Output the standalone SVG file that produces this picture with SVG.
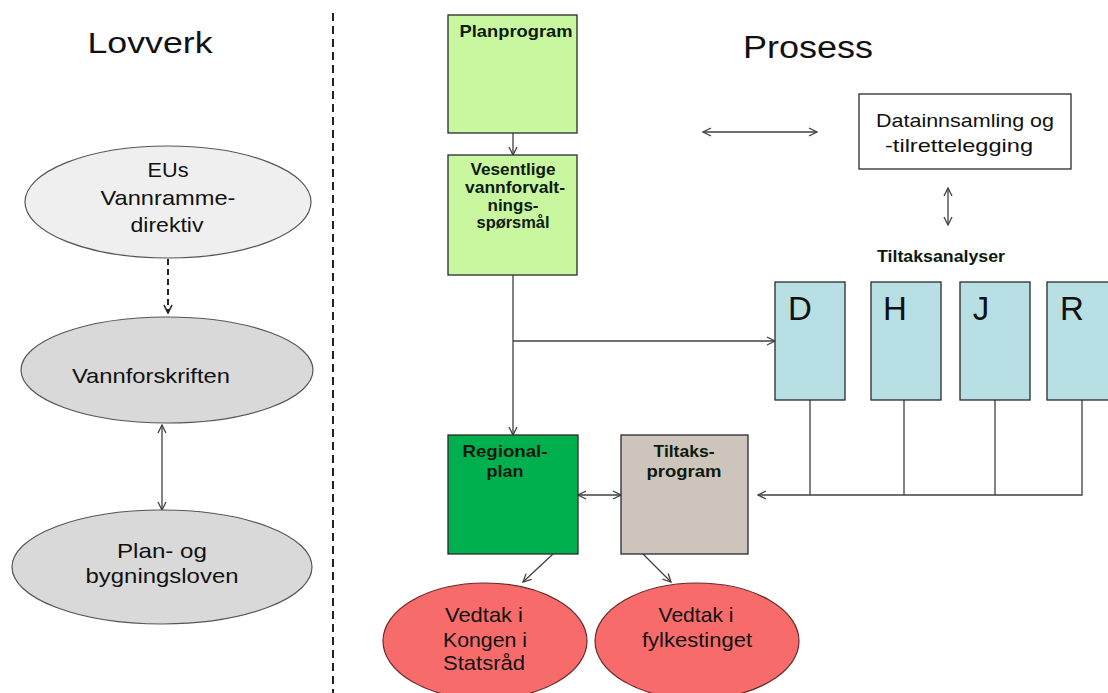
<svg xmlns="http://www.w3.org/2000/svg" width="1108" height="693" viewBox="0 0 1108 693">
<style>
.t{font-family:"Liberation Sans",Arial,sans-serif;fill:#111;text-anchor:middle}
.b{font-weight:bold;font-size:17px;fill:#0e1a0e}
.e{font-size:21px}
.ln{stroke:#404040;stroke-width:1.3;fill:none}
.box{stroke:#2a2a2a;stroke-width:1.3}
</style>
<defs>
<marker id="ah" viewBox="0 0 10 10" refX="9" refY="5" markerWidth="10" markerHeight="10" markerUnits="userSpaceOnUse" orient="auto-start-reverse">
<path d="M1,1 L9,5 L1,9" fill="none" stroke="#404040" stroke-width="1.3"/>
</marker>
<marker id="ahd" viewBox="0 0 10 10" refX="9" refY="5" markerWidth="10" markerHeight="10" markerUnits="userSpaceOnUse" orient="auto">
<path d="M1,1 L9,5 L1,9" fill="none" stroke="#222" stroke-width="1.6"/>
</marker>
</defs>
<rect width="1108" height="693" fill="#fff"/>

<text class="t" x="150" y="53" font-size="29" textLength="125" lengthAdjust="spacingAndGlyphs">Lovverk</text>
<text class="t" x="808" y="58" font-size="31" textLength="130" lengthAdjust="spacingAndGlyphs">Prosess</text>

<line x1="333" y1="13" x2="333" y2="693" stroke="#222" stroke-width="2" stroke-dasharray="8,5"/>

<g id="connectors">
<line x1="168" y1="259" x2="168" y2="313" stroke="#222" stroke-width="2" stroke-dasharray="6,4" marker-end="url(#ahd)"/>
<line class="ln" x1="162" y1="425" x2="162" y2="510" marker-start="url(#ah)" marker-end="url(#ah)"/>
<line class="ln" x1="513" y1="133" x2="513" y2="155" marker-end="url(#ah)"/>
<line class="ln" x1="513" y1="275" x2="513" y2="435" marker-end="url(#ah)"/>
<line class="ln" x1="513" y1="341" x2="775" y2="341" marker-end="url(#ah)"/>
<line class="ln" x1="703" y1="132" x2="817" y2="132" marker-start="url(#ah)" marker-end="url(#ah)"/>
<line class="ln" x1="948" y1="188" x2="948" y2="225" marker-start="url(#ah)" marker-end="url(#ah)"/>
<line class="ln" x1="578" y1="495" x2="621" y2="495" marker-start="url(#ah)" marker-end="url(#ah)"/>
<path class="ln" d="M810,400 V495 M904,400 V495 M995,400 V495 M1082,400 V495 H758" marker-end="url(#ah)"/>
<line class="ln" x1="553" y1="554" x2="523" y2="582" marker-end="url(#ah)"/>
<line class="ln" x1="643" y1="554" x2="671" y2="582" marker-end="url(#ah)"/>
</g>

<g id="eu">
<ellipse cx="168" cy="202" rx="143" ry="56" fill="#efefef" stroke="#555" stroke-width="1.2"/>
<text class="t e" x="168" y="177" textLength="41" lengthAdjust="spacingAndGlyphs">EUs</text>
<text class="t e" x="168" y="205" textLength="135" lengthAdjust="spacingAndGlyphs">Vannramme-</text>
<text class="t e" x="167" y="232" textLength="73" lengthAdjust="spacingAndGlyphs">direktiv</text>
</g>
<g id="vannforskriften">
<ellipse cx="167" cy="370" rx="146" ry="53" fill="#d9d9d9" stroke="#555" stroke-width="1.2"/>
<text class="t e" x="151" y="383" textLength="158" lengthAdjust="spacingAndGlyphs">Vannforskriften</text>
</g>
<g id="pbl">
<ellipse cx="162" cy="567" rx="150" ry="57" fill="#d9d9d9" stroke="#555" stroke-width="1.2"/>
<text class="t e" x="162" y="558" textLength="90" lengthAdjust="spacingAndGlyphs">Plan- og</text>
<text class="t e" x="162" y="583" textLength="153" lengthAdjust="spacingAndGlyphs">bygningsloven</text>
</g>

<g id="planprogram">
<rect class="box" x="448" y="15" width="129" height="118" fill="#c9f7a0"/>
<text class="t b" x="516" y="37" textLength="113" lengthAdjust="spacingAndGlyphs">Planprogram</text>
</g>
<g id="vesentlige">
<rect class="box" x="448" y="155" width="129" height="120" fill="#c9f7a0"/>
<text class="t b" x="513" y="175" textLength="85" lengthAdjust="spacingAndGlyphs">Vesentlige</text>
<text class="t b" x="515" y="193" textLength="100" lengthAdjust="spacingAndGlyphs">vannforvalt-</text>
<text class="t b" x="513" y="211" textLength="51" lengthAdjust="spacingAndGlyphs">nings-</text>
<text class="t b" x="513" y="228" textLength="73" lengthAdjust="spacingAndGlyphs">spørsmål</text>
</g>
<g id="regionalplan">
<rect class="box" x="448" y="435" width="130" height="119" fill="#00b04f"/>
<text class="t b" x="505" y="457" textLength="85" lengthAdjust="spacingAndGlyphs">Regional-</text>
<text class="t b" x="505" y="477" textLength="37" lengthAdjust="spacingAndGlyphs">plan</text>
</g>
<g id="tiltaksprogram">
<rect class="box" x="621" y="435" width="127" height="119" fill="#cdc4bc"/>
<text class="t b" x="684" y="457" textLength="61" lengthAdjust="spacingAndGlyphs">Tiltaks-</text>
<text class="t b" x="684" y="477" textLength="75" lengthAdjust="spacingAndGlyphs">program</text>
</g>
<g id="datainnsamling">
<rect class="box" x="859" y="94" width="212" height="75" fill="#fff"/>
<text class="t" x="965" y="127" font-size="19" textLength="178" lengthAdjust="spacingAndGlyphs">Datainnsamling og</text>
<text class="t" x="959" y="152" font-size="19" textLength="148" lengthAdjust="spacingAndGlyphs">-tilrettelegging</text>
</g>
<text class="t b" x="941" y="262" textLength="128" lengthAdjust="spacingAndGlyphs">Tiltaksanalyser</text>
<g id="d">
<rect class="box" x="775" y="282" width="70" height="118" fill="#b8dfe3"/>
<text class="t" x="800" y="320" font-size="33">D</text>
</g>
<g id="h">
<rect class="box" x="871" y="282" width="70" height="118" fill="#b8dfe3"/>
<text class="t" x="895" y="320" font-size="33">H</text>
</g>
<g id="j">
<rect class="box" x="960" y="282" width="70" height="118" fill="#b8dfe3"/>
<text class="t" x="981" y="320" font-size="33">J</text>
</g>
<g id="r">
<rect class="box" x="1047" y="282" width="70" height="118" fill="#b8dfe3"/>
<text class="t" x="1072" y="320" font-size="33">R</text>
</g>

<g id="kongen">
<ellipse cx="485" cy="641" rx="102" ry="58" fill="#f86b6b" stroke="#6a2a2a" stroke-width="1.2"/>
<text class="t e" x="484" y="622" fill="#2a1010" textLength="78" lengthAdjust="spacingAndGlyphs">Vedtak i</text>
<text class="t e" x="485" y="647" fill="#2a1010" textLength="84" lengthAdjust="spacingAndGlyphs">Kongen i</text>
<text class="t e" x="484" y="670" fill="#2a1010" textLength="82" lengthAdjust="spacingAndGlyphs">Statsråd</text>
</g>
<g id="fylkestinget">
<ellipse cx="697" cy="641" rx="102" ry="58" fill="#f86b6b" stroke="#6a2a2a" stroke-width="1.2"/>
<text class="t e" x="696" y="622" fill="#2a1010" textLength="75" lengthAdjust="spacingAndGlyphs">Vedtak i</text>
<text class="t e" x="697" y="647" fill="#2a1010" textLength="110" lengthAdjust="spacingAndGlyphs">fylkestinget</text>
</g>
</svg>
